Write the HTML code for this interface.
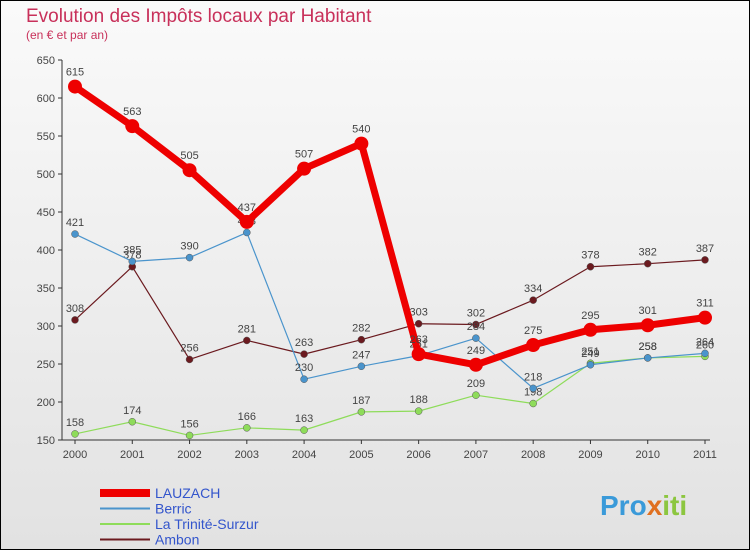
<!DOCTYPE html>
<html><head><meta charset="utf-8"><style>
body{margin:0;width:750px;height:550px;overflow:hidden;font-family:"Liberation Sans",sans-serif}
#c{position:absolute;left:0;top:0;width:748px;height:548px;border:1px solid #000;background:linear-gradient(#fafafa,#e2e2e2)}
</style></head><body>
<div id="c">
<svg id="s" width="750" height="550" xmlns="http://www.w3.org/2000/svg" style="position:absolute;left:-1px;top:-1px">
<text x="26" y="22" font-size="19" fill="#c8305a">Evolution des Impôts locaux par Habitant</text>
<text x="26" y="39" font-size="12" fill="#c8305a">(en € et par an)</text>
<text x="600" y="515" font-size="28" font-weight="bold" fill="#3a9ad9">Pro<tspan fill="#e07020">x</tspan><tspan fill="#8cc63f">iti</tspan></text>
</svg>
</div>
<script>
const years=["2000","2001","2002","2003","2004","2005","2006","2007","2008","2009","2010","2011"];
const yTicks=[150,200,250,300,350,400,450,500,550,600,650];
const lauzach=[615,563,505,437,507,540,263,249,275,295,301,311];
const berric=[421,385,390,423,230,247,261,284,218,249,258,264];
const trinite=[158,174,156,166,163,187,188,209,198,251,258,260];
const ambon=[308,378,256,281,263,282,303,302,334,378,382,387];
const NS="http://www.w3.org/2000/svg",s=document.getElementById('s');
const X=i=>75+i*(630/11), Y=v=>440-(v-150)*0.76;
function mk(t,a,p){const e=document.createElementNS(NS,t);for(const k in a)e.setAttribute(k,a[k]);(p||s).appendChild(e);return e;}
let ax=mk('line',{x1:62,y1:Y(650),x2:62,y2:Y(150),stroke:'#333'});


let xa=mk('line',{x1:62,y1:Y(150),x2:710,y2:Y(150),stroke:'#333'});


yTicks.forEach(v=>{mk('line',{x1:58,y1:Y(v),x2:62,y2:Y(v),stroke:'#333'});
const t=mk('text',{x:55,y:Y(v)+4,'font-size':11,fill:'#444','text-anchor':'end'});t.textContent=v;

});
years.forEach((y,i)=>{mk('line',{x1:X(i),y1:Y(150),x2:X(i),y2:Y(150)+4,stroke:'#333'});
const t=mk('text',{x:X(i),y:Y(150)+18,'font-size':11,fill:'#444','text-anchor':'middle'});t.textContent=y;

});
const series=[[ambon,'#6b1a1f',1.2,3.5,'ambon'],[trinite,'#8edc5a',1.2,3.5,'trinite'],[berric,'#4a94cc',1.2,3.5,'berric'],[lauzach,'#ee0000',7,7,'lauzach']];
series.forEach(([d,c,w,r,n])=>{
const g=mk('g',{});


const p=mk('polyline',{points:d.map((v,i)=>X(i)+','+Y(v)).join(' '),fill:'none',stroke:c,'stroke-width':w,'stroke-linejoin':'round'},g);


d.forEach((v,i)=>{const pt=mk('circle',{cx:X(i),cy:Y(v),r:r,fill:c,stroke:n==='lauzach'?'none':'#555','stroke-width':0.5},g);


const t=mk('text',{x:X(i),y:Y(v)-(n==='lauzach'?11:8),'font-size':11,fill:'#444','text-anchor':'middle'},g);t.textContent=v;

});
});
const leg=[['LAUZACH','#ee0000',8],['Berric','#4a94cc',2],['La Trinité-Surzur','#8edc5a',2],['Ambon','#6b1a1f',2]];
leg.forEach(([n,c,w],i)=>{const y=493+i*15.5;
const g=mk('g',{});


mk('line',{x1:100,y1:y,x2:150,y2:y,stroke:c,'stroke-width':w},g);
const t=mk('text',{x:155,y:y+5,'font-size':14,fill:'#3355cc'},g);t.textContent=n;});
</script>
</body></html>
